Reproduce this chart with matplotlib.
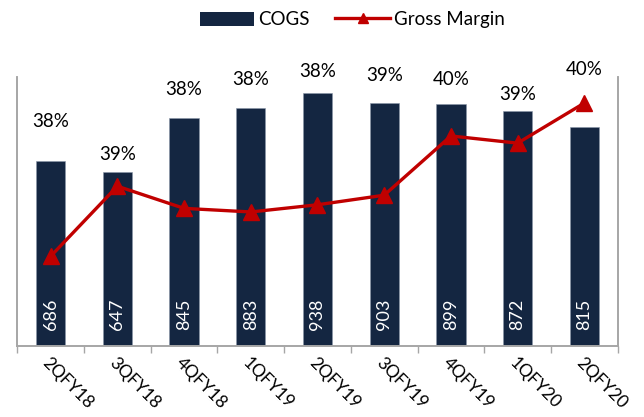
import matplotlib
matplotlib.use("Agg")
import matplotlib.pyplot as plt
from matplotlib.lines import Line2D
from matplotlib.patches import Patch

# ---- data ----
quarters = ["2QFY18", "3QFY18", "4QFY18", "1QFY19", "2QFY19", "3QFY19", "4QFY19", "1QFY20", "2QFY20"]
cogs = [686, 647, 845, 883, 938, 903, 899, 872, 815]
gross_margin = [37.5, 38.67, 38.30, 38.24, 38.36, 38.52, 39.51, 39.39, 40.06]
margin_labels = ["38%", "39%", "38%", "38%", "38%", "39%", "40%", "39%", "40%"]

# ---- layout (label heights in COGS-axis units) ----
margin_label_y = [833, 712, 953, 991, 1019, 1006, 990, 935, 1027]

plt.rcParams['font.family'] = ['Lato', 'DejaVu Sans']

NAVY = "#142641"
RED = "#C00000"
GRAY = "#A6A6A6"

fig = plt.figure(figsize=(6.44, 4.17), dpi=100)
ax = fig.add_axes([0.0269, 0.1703, 0.9322, 0.6457])
x = list(range(len(quarters)))

ax.bar(x, cogs, width=0.44, color=NAVY, edgecolor="#8A96A8", linewidth=0.4, zorder=2)
ax.set_xlim(-0.5, len(quarters) - 0.5)
ax.set_ylim(0, 1000)

for xi, v in zip(x, cogs):
    ax.text(xi, 60, f"{v}", rotation=90, ha="center", va="bottom", color="white",
            fontsize=13, zorder=5)

for xi, lab, ly in zip(x, margin_labels, margin_label_y):
    ax.text(xi, ly, lab, ha="center", va="center", fontsize=13.5, color="black",
            clip_on=False, zorder=5)

ax2 = ax.twinx()
ax2.plot(x, gross_margin, color=RED, linewidth=2.4, marker="^", markersize=11.5,
         zorder=4, clip_on=False)
ax2.set_ylim(36, 40.5)
ax2.set_yticks([])
ax.set_yticks([])

for a in (ax, ax2):
    a.spines["top"].set_visible(False)
    for s in ("left", "right", "bottom"):
        a.spines[s].set_color(GRAY)
        a.spines[s].set_linewidth(1.2)

ax.set_xticks([i - 0.5 for i in range(len(quarters) + 1)], minor=False)
ax.set_xticklabels([])
ax.tick_params(axis="x", which="major", length=5, width=1.0, color=GRAY, direction="out")
ax.set_xticks(x, minor=True)
ax.set_xticklabels(quarters, minor=True, rotation=-45, ha="left", va="top",
                   rotation_mode="anchor", fontsize=12.5)
ax.tick_params(axis="x", which="minor", length=0, pad=6)

handles = [
    Patch(facecolor=NAVY, edgecolor="none"),
    Line2D([0], [0], color=RED, linewidth=2.4, marker="^", markersize=7),
]
fig.legend(handles, ["COGS", "Gross Margin"], loc="center",
           bbox_to_anchor=(352 / 644, 1 - 19.7 / 417), ncol=2, frameon=False,
           fontsize=13.5, handlelength=2.9, handleheight=0.75, handletextpad=0.2,
           columnspacing=1.4, borderpad=0)

fig.savefig("out.png", dpi=100)
